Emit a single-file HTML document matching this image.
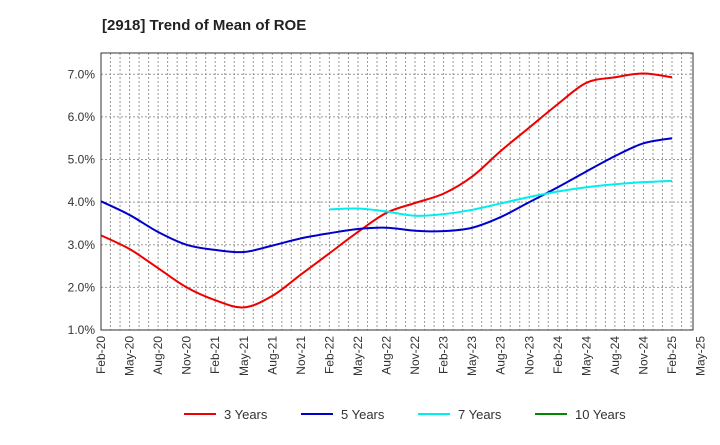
<!DOCTYPE html>
<html><head><meta charset="utf-8"><style>
body{margin:0;background:#fff;font-family:"Liberation Sans",sans-serif}
svg text{font-family:"Liberation Sans",sans-serif}
</style></head><body>
<svg id="c" width="720" height="440" xmlns="http://www.w3.org/2000/svg">
<text x="102" y="30" font-size="15" font-weight="bold" fill="#222">[2918]  Trend of Mean of ROE</text>
<g id="grid"></g><g id="axes"></g><g id="series"></g><g id="legend"></g>
</svg>
<script>
const xTicks=["Feb-20","May-20","Aug-20","Nov-20","Feb-21","May-21","Aug-21","Nov-21","Feb-22","May-22","Aug-22","Nov-22","Feb-23","May-23","Aug-23","Nov-23","Feb-24","May-24","Aug-24","Nov-24","Feb-25","May-25"];
const yTicks=[1,2,3,4,5,6,7];
const y3=[3.22,2.9,2.45,2.0,1.7,1.53,1.8,2.3,2.8,3.3,3.75,3.98,4.2,4.6,5.2,5.75,6.3,6.8,6.93,7.02,6.93];
const y5=[4.02,3.7,3.3,3.0,2.88,2.83,2.98,3.15,3.27,3.37,3.4,3.33,3.32,3.4,3.65,4.0,4.35,4.72,5.08,5.38,5.5];
const y7=[null,null,null,null,null,null,null,null,3.83,3.85,3.78,3.68,3.72,3.82,3.97,4.12,4.25,4.35,4.42,4.47,4.5];
const y10=[];
const L=101,R=693,T=53,B=330,ymin=1,ymax=7.5,QW=28.55;
const X=i=>L+i*QW;
const Y=v=>B-(v-ymin)/(ymax-ymin)*(B-T);
const NS="http://www.w3.org/2000/svg";
function mk(p,tag,a){const e=document.createElementNS(NS,tag);for(const k in a)e.setAttribute(k,a[k]);p.appendChild(e);return e;}
const g=document.getElementById('grid');
for(let m=1;L+m*QW/3<R-1;m++){const x=L+m*QW/3;
const l=mk(g,'line',{x1:x,x2:x,y1:T,y2:B,stroke:'#999','stroke-width':1,'stroke-dasharray':'2,2'});

}
yTicks.forEach(v=>{const y=Y(v);
const l=mk(g,'line',{x1:L,x2:R,y1:y,y2:y,stroke:'#999','stroke-width':1,'stroke-dasharray':'2,2'});


const t=mk(g,'text',{x:L-6,y:y+4,'font-size':12,'text-anchor':'end',fill:'#333'});t.textContent=v.toFixed(1)+'%';

});
const a=document.getElementById('axes');
const fr=mk(a,'rect',{x:L,y:T,width:R-L,height:B-T,fill:'none',stroke:'#333','stroke-width':1});


xTicks.forEach((s,i)=>{const x=X(i);
const t=mk(a,'text',{x:x+4,y:B+6,'font-size':12,'text-anchor':'end',fill:'#333',transform:`rotate(-90 ${x+4} ${B+6})`});t.textContent=s;

});
function path(vals){const p=[];vals.forEach((v,i)=>{if(v!=null)p.push([X(i),Y(v)]);});
if(p.length<2)return '';let d=`M${p[0][0]},${p[0][1]}`;
for(let i=0;i<p.length-1;i++){const p0=p[Math.max(0,i-1)],p1=p[i],p2=p[i+1],p3=p[Math.min(p.length-1,i+2)];
d+=`C${p1[0]+(p2[0]-p0[0])/6},${p1[1]+(p2[1]-p0[1])/6} ${p2[0]-(p3[0]-p1[0])/6},${p2[1]-(p3[1]-p1[1])/6} ${p2[0]},${p2[1]}`;}
return d;}
const S=document.getElementById('series');
const series=[[y3,'#e00','3 Years','line-3-years'],[y5,'#00c','5 Years','line-5-years'],[y7,'#0ee','7 Years','line-7-years'],[y10,'#080','10 Years','line-10-years']];
series.forEach(s=>{const d=path(s[0]);if(!d)return;
const e=mk(S,'path',{d:d,fill:'none',stroke:s[1],'stroke-width':2});

});
const Lg=document.getElementById('legend');
const lx=[184,301,418,535];
series.forEach((s,i)=>{const gg=mk(Lg,'g',{});


mk(gg,'line',{x1:lx[i],x2:lx[i]+32,y1:414,y2:414,stroke:s[1],'stroke-width':2});
const t=mk(gg,'text',{x:lx[i]+40,y:419,'font-size':13,fill:'#333'});t.textContent=s[2];});
</script>
</body></html>
